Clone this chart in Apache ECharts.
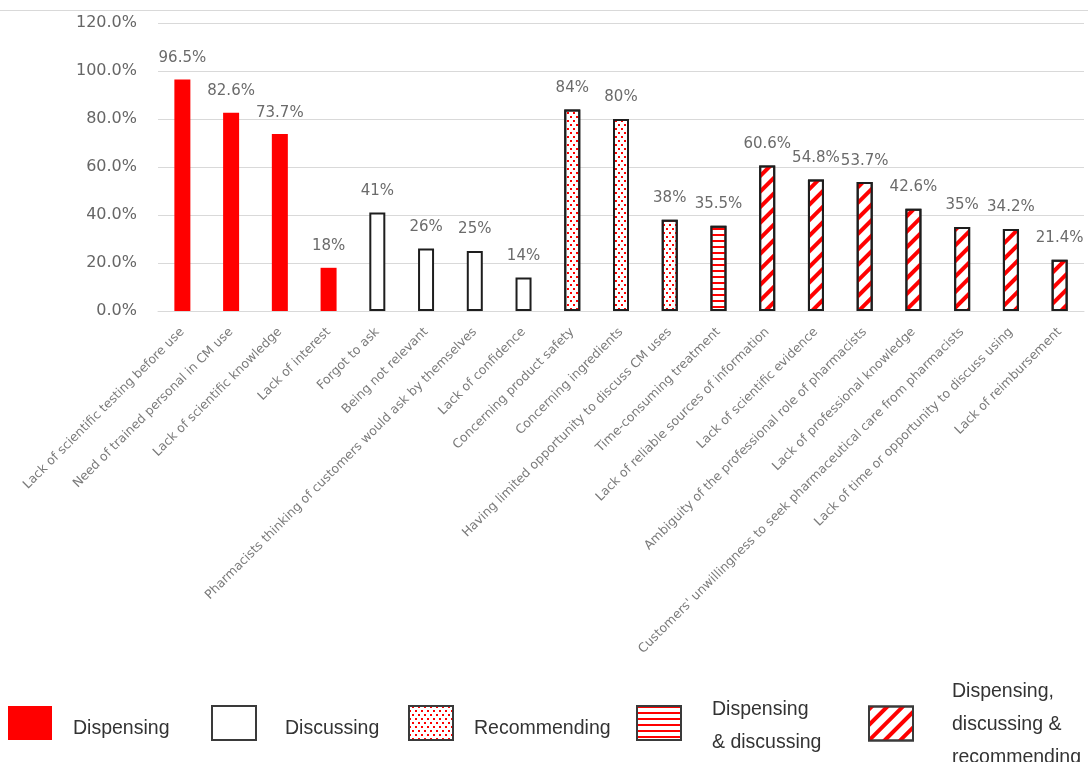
<!DOCTYPE html>
<html>
<head>
<meta charset="utf-8">
<script src="https://cdn.jsdelivr.net/npm/echarts@6/dist/echarts.min.js"></script>
<style>
  html, body { margin: 0; padding: 0; background: #fff; }
  #chart { width: 1088px; height: 762px; }
</style>
</head>
<body>
<div id="chart"></div>
<script>
// Barriers, grouped by the pharmacy activity they affect
const categories = [
  'Lack of scientific testing before use',
  'Need of trained personal in CM use',
  'Lack of scientific knowledge',
  'Lack of interest',
  'Forgot to ask',
  'Being not relevant',
  'Pharmacists thinking of customers would ask by themselves',
  'Lack of confidence',
  'Concerning product safety',
  'Concerning ingredients',
  'Having limited opportunity to discuss CM uses',
  'Time-consuming treatment',
  'Lack of reliable sources of information',
  'Lack of scientific evidence',
  'Ambiguity of the professional role of pharmacists',
  'Lack of professional knowledge',
  "Customers' unwillingness to seek pharmaceutical care from pharmacists",
  'Lack of time or opportunity to discuss using',
  'Lack of reimbursement'
];

// Percentage of respondents reporting each barrier
const values = [96.5, 82.6, 73.7, 18, 41, 26, 25, 14, 84, 80, 38, 35.5, 60.6, 54.8, 53.7, 42.6, 35, 34.2, 21.4];

// Activity group of each barrier (index into groupNames)
const groupIndex = [0, 0, 0, 0, 1, 1, 1, 1, 2, 2, 2, 3, 4, 4, 4, 4, 4, 4, 4];

const groupNames = [
  'Dispensing',
  'Discussing',
  'Recommending',
  'Dispensing & discussing',
  'Dispensing, discussing & recommending'
];

// Legend text, one entry per line
const legendLines = [
  ['Dispensing'],
  ['Discussing'],
  ['Recommending'],
  ['Dispensing', '& discussing'],
  ['Dispensing,', 'discussing &', 'recommending']
];

const yTicks = { min: 0, max: 120, step: 20 };

// Fill styles for each group
const RED = '#ff0000';
const EDGE = '#1e1e1e';
const groupStyles = [
  { color: RED, borderWidth: 0 },
  { color: '#ffffff', borderColor: EDGE, borderWidth: 2 },
  {
    color: '#ffffff', borderColor: EDGE, borderWidth: 2,
    decal: {
      symbol: 'rect', symbolSize: 1, color: RED, backgroundColor: 'rgba(0,0,0,0)',
      dashArrayX: [[1.5, 3.5], [0, 2.5, 1.5, 1]],
      dashArrayY: [1.5, 2]
    }
  },
  {
    color: '#ffffff', borderColor: EDGE, borderWidth: 2,
    decal: {
      symbol: 'rect', symbolSize: 1, color: RED, backgroundColor: 'rgba(0,0,0,0)',
      dashArrayX: [[1, 0]],
      dashArrayY: [1.6, 3.3]
    }
  },
  {
    color: '#ffffff', borderColor: EDGE, borderWidth: 2,
    decal: {
      symbol: 'rect', symbolSize: 1, color: RED, backgroundColor: 'rgba(0,0,0,0)',
      dashArrayX: [[1, 0]],
      dashArrayY: [4, 6.4],
      rotation: -Math.PI / 4
    }
  }
];

const series = groupNames.map((name, g) => ({
  name: name,
  type: 'bar',
  barWidth: 16,
  barGap: '-100%',
  data: values.map((v, i) => (groupIndex[i] === g ? v : '-')),
  itemStyle: groupStyles[g],
  label: {
    show: true,
    position: 'top',
    distance: 14,
    formatter: p => p.value + '%',
    fontFamily: 'DejaVu Sans',
    fontSize: 15,
    color: '#6b6b6b'
  }
}));

// Legend: one block per group, placed along the bottom.
// A thin spacer line above the text nudges it slightly below the swatch centre.
const legendLeft = [8, 211, 408, 636, 868];
const legendTop = [700.5, 700.5, 700.5, 687, 673];
const legendSpacer = [12, 12, 12, 6, 2];
const legendTextLeft = [16, 24, 16, 26, 34];
const legendFont = { fontFamily: 'Liberation Sans', fontSize: 19.5, color: '#333333' };
const legends = groupNames.map((name, g) => ({
  data: [name],
  left: legendLeft[g],
  top: legendTop[g],
  padding: 0,
  orient: 'horizontal',
  icon: 'rect',
  itemWidth: 44,
  itemHeight: 34,
  selectedMode: false,
  formatter: () => '{s| }\n' + legendLines[g].map(t => '{t|' + t + '}').join('\n'),
  itemStyle: g === 0 ? { borderWidth: 0 } : { borderColor: '#3a3a3a', borderWidth: 2 },
  textStyle: Object.assign({}, legendFont, {
    padding: [0, 0, 0, legendTextLeft[g]],
    rich: {
      s: Object.assign({}, legendFont, { fontSize: 1, lineHeight: legendSpacer[g], height: legendSpacer[g] }),
      t: Object.assign({}, legendFont, { lineHeight: 33 })
    }
  })
}));

const chart = echarts.init(document.getElementById('chart'), null, { renderer: 'canvas' });
chart.setOption({
  animation: false,
  backgroundColor: '#ffffff',
  grid: { left: 158, right: 4, top: 23, bottom: 451, containLabel: false },
  xAxis: {
    type: 'category',
    data: categories,
    axisTick: { show: false },
    axisLine: { lineStyle: { color: '#d9d9d9', width: 1 } },
    axisLabel: {
      interval: 0,
      rotate: 45,
      margin: 19,
      fontFamily: 'DejaVu Sans',
      fontSize: 12.5,
      color: '#7a7a7a'
    }
  },
  yAxis: {
    type: 'value',
    min: yTicks.min,
    max: yTicks.max,
    interval: yTicks.step,
    axisLine: { show: false },
    axisTick: { show: false },
    splitLine: { lineStyle: { color: '#d9d9d9', width: 1 } },
    axisLabel: {
      margin: 21,
      formatter: v => v.toFixed(1) + '%',
      fontFamily: 'DejaVu Sans',
      fontSize: 16,
      color: '#666666'
    }
  },
  legend: legends,
  graphic: [{
    type: 'line',
    shape: { x1: 0, y1: 10.5, x2: 1088, y2: 10.5 },
    style: { stroke: '#d9d9d9', lineWidth: 1 },
    silent: true
  }],
  series: series
});
</script>
</body>
</html>
